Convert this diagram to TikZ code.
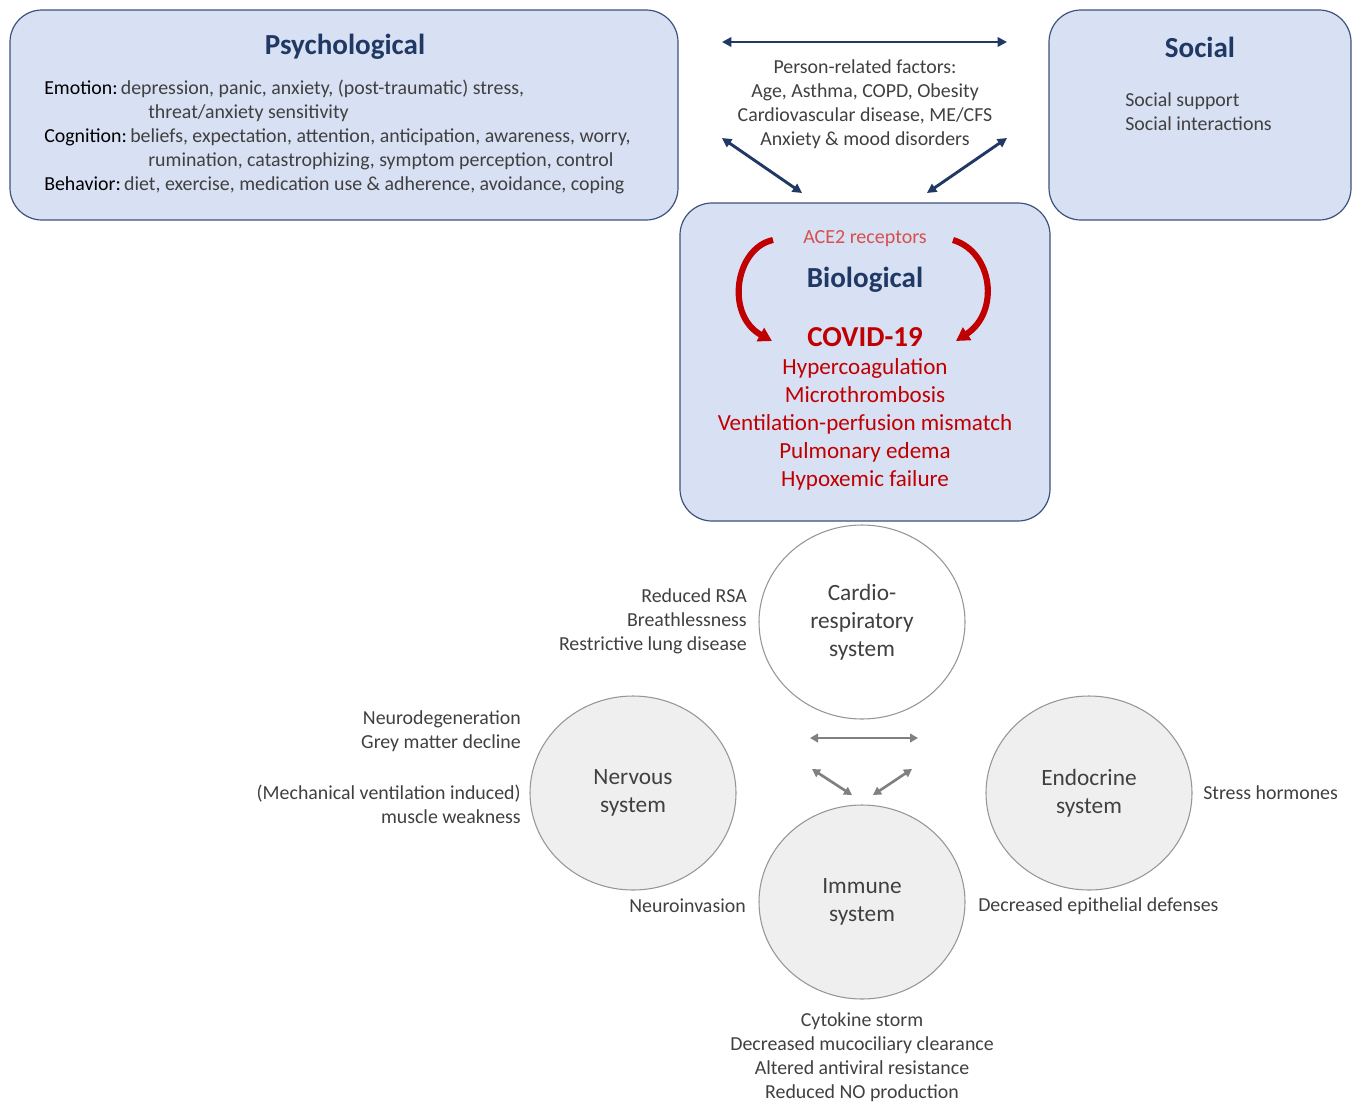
\documentclass[tikz,border=0pt]{standalone}
\usepackage{fontspec}
\setmainfont{Carlito}
\usetikzlibrary{arrows.meta,shapes.geometric}

\definecolor{boxFill}{RGB}{216,224,243}
\definecolor{boxLine}{RGB}{62,82,125}
\definecolor{navyText}{RGB}{31,56,100}
\definecolor{covidRed}{RGB}{192,0,0}
\definecolor{aceRed}{RGB}{214,80,76}
\definecolor{bodyGrey}{RGB}{64,64,64}
\definecolor{ringGrey}{RGB}{150,150,150}
\definecolor{arrowGrey}{RGB}{128,128,128}
\definecolor{discFill}{RGB}{239,239,239}

\begin{document}
\begin{tikzpicture}[x=0.75pt,y=-0.75pt,
  factorbox/.style={rounded corners=24pt,draw=boxLine,fill=boxFill,line width=0.9pt,inner sep=0pt},
  boxtitle/.style={font=\fontsize{21.8}{26}\selectfont\bfseries,text=navyText},
  bodytext/.style={font=\fontsize{14.9}{18}\selectfont,text=bodyGrey,inner sep=0pt},
  redlist/.style={font=\fontsize{17.3}{21}\selectfont,text=covidRed,align=center,inner sep=0pt},
  system/.style={ellipse,draw=ringGrey,line width=0.8pt,minimum width=154.5pt,minimum height=145.5pt,
    font=\fontsize{17.5}{21}\selectfont,text=bodyGrey,align=center,inner sep=0pt},
  sidetext/.style={bodytext,align=right,anchor=east},
  link/.style={{Triangle[length=7pt,width=7pt]}-{Triangle[length=7pt,width=7pt]},line width=2.2pt,draw=navyText},
  greylink/.style={{Triangle[length=6pt,width=6.5pt]}-{Triangle[length=6pt,width=6.5pt]},line width=2pt,draw=arrowGrey},
  infection/.style={-{Triangle[length=10pt,width=11pt]},line width=4.6pt,draw=covidRed,line cap=butt}]

\useasboundingbox (0,0) rectangle (1356,1104);

% The three factor boxes
\node[factorbox,minimum width=501pt,minimum height=157.5pt] (psychological) at (344,115) {};
\node[factorbox,minimum width=226.5pt,minimum height=157.5pt] (social) at (1200,115) {};
\node[factorbox,minimum width=277.5pt,minimum height=238.5pt] (biological) at (865,362) {};

% Psychological contents
\node[boxtitle] (psychTitle) at (345,47) {Psychological};
\node[bodytext,anchor=west,align=left] (psychList) at (44,137) {%
  {\color{black}Emotion:}\,depression, panic, anxiety, (post-traumatic) stress,\\
  \hspace*{78pt}threat/anxiety sensitivity\\
  {\color{black}Cognition:}\,beliefs, expectation, attention, anticipation, awareness, worry,\\
  \hspace*{78pt}rumination, catastrophizing, symptom perception, control\\
  {\color{black}Behavior:}\,diet, exercise, medication use \& adherence, avoidance, coping};

% Social contents
\node[boxtitle] (socialTitle) at (1200,47) {Social};
\node[bodytext,anchor=west,align=left] (socialList) at (1125,112) {Social support\\Social interactions};

% Person-related factors between the boxes
\node[bodytext,align=center] (personFactors) at (865,104) {Person-related factors:\\Age, Asthma, COPD, Obesity\\Cardiovascular disease, ME/CFS\\Anxiety \& mood disorders};
\coordinate (topLeft) at (722,42);
\coordinate (topRight) at (1007,42);
\coordinate (diagLeft) at (722,138);
\coordinate (diagRight) at (1007,138);
\coordinate (bioLeft) at (802,193);
\coordinate (bioRight) at (927,193);
\draw[link] (topLeft) -- (topRight);
\draw[link] (diagLeft) -- (bioLeft);
\draw[link] (diagRight) -- (bioRight);

% Biological contents
\node[font=\fontsize{15}{18}\selectfont,text=aceRed] (aceReceptors) at (865,239) {ACE2 receptors};
\node[boxtitle] (bioTitle) at (865,280) {Biological};
\node[font=\fontsize{21.7}{26}\selectfont\bfseries,text=covidRed] (covid) at (865,337) {COVID-19};
\node[redlist] (covidList) at (865,424) {Hypercoagulation\\Microthrombosis\\Ventilation-perfusion mismatch\\Pulmonary edema\\Hypoxemic failure};
\coordinate (aceLeft) at (773,240);
\coordinate (covidLeft) at (772,341);
\coordinate (aceRight) at (953,240);
\coordinate (covidRight) at (956,341);
\draw[infection] (aceLeft) .. controls (735,248) and (725,315) .. (covidLeft);
\draw[infection] (aceRight) .. controls (993,252) and (1000,312) .. (covidRight);

% Body systems
\node[system,fill=white] (cardio) at (862,622) {Cardio-\\respiratory\\system};
\node[system,fill=discFill] (nervous) at (633,793) {Nervous\\system};
\node[system,fill=discFill] (endocrine) at (1089,793) {Endocrine\\system};
\node[system,fill=discFill] (immune) at (862,902) {Immune\\system};

\coordinate (midLeft) at (810,738);
\coordinate (midRight) at (918,738);
\coordinate (lowLeft) at (812,769);
\coordinate (lowRight) at (912,769);
\coordinate (immuneLeft) at (852,795);
\coordinate (immuneRight) at (873,795);
\draw[greylink] (midLeft) -- (midRight);
\draw[greylink] (lowLeft) -- (immuneLeft);
\draw[greylink] (lowRight) -- (immuneRight);

% Effects beside the systems
\node[sidetext] (cardioEffects) at (747,621) {Reduced RSA\\Breathlessness\\Restrictive lung disease};
\node[sidetext] (nervousEffects) at (521,731) {Neurodegeneration\\Grey matter decline};
\node[sidetext] (muscleEffects) at (521,804) {(Mechanical ventilation induced)\\muscle weakness};
\node[sidetext] (neuroinvasion) at (746,906) {Neuroinvasion};
\node[bodytext,anchor=west] (stressHormones) at (1203,793) {Stress hormones};
\node[bodytext,anchor=west] (epithelial) at (978,906) {Decreased epithelial defenses};
\node[bodytext,align=center] (immuneEffects) at (862,1057) {Cytokine storm\\Decreased mucociliary clearance\\Altered antiviral resistance\\Reduced NO production};

\end{tikzpicture}
\end{document}
